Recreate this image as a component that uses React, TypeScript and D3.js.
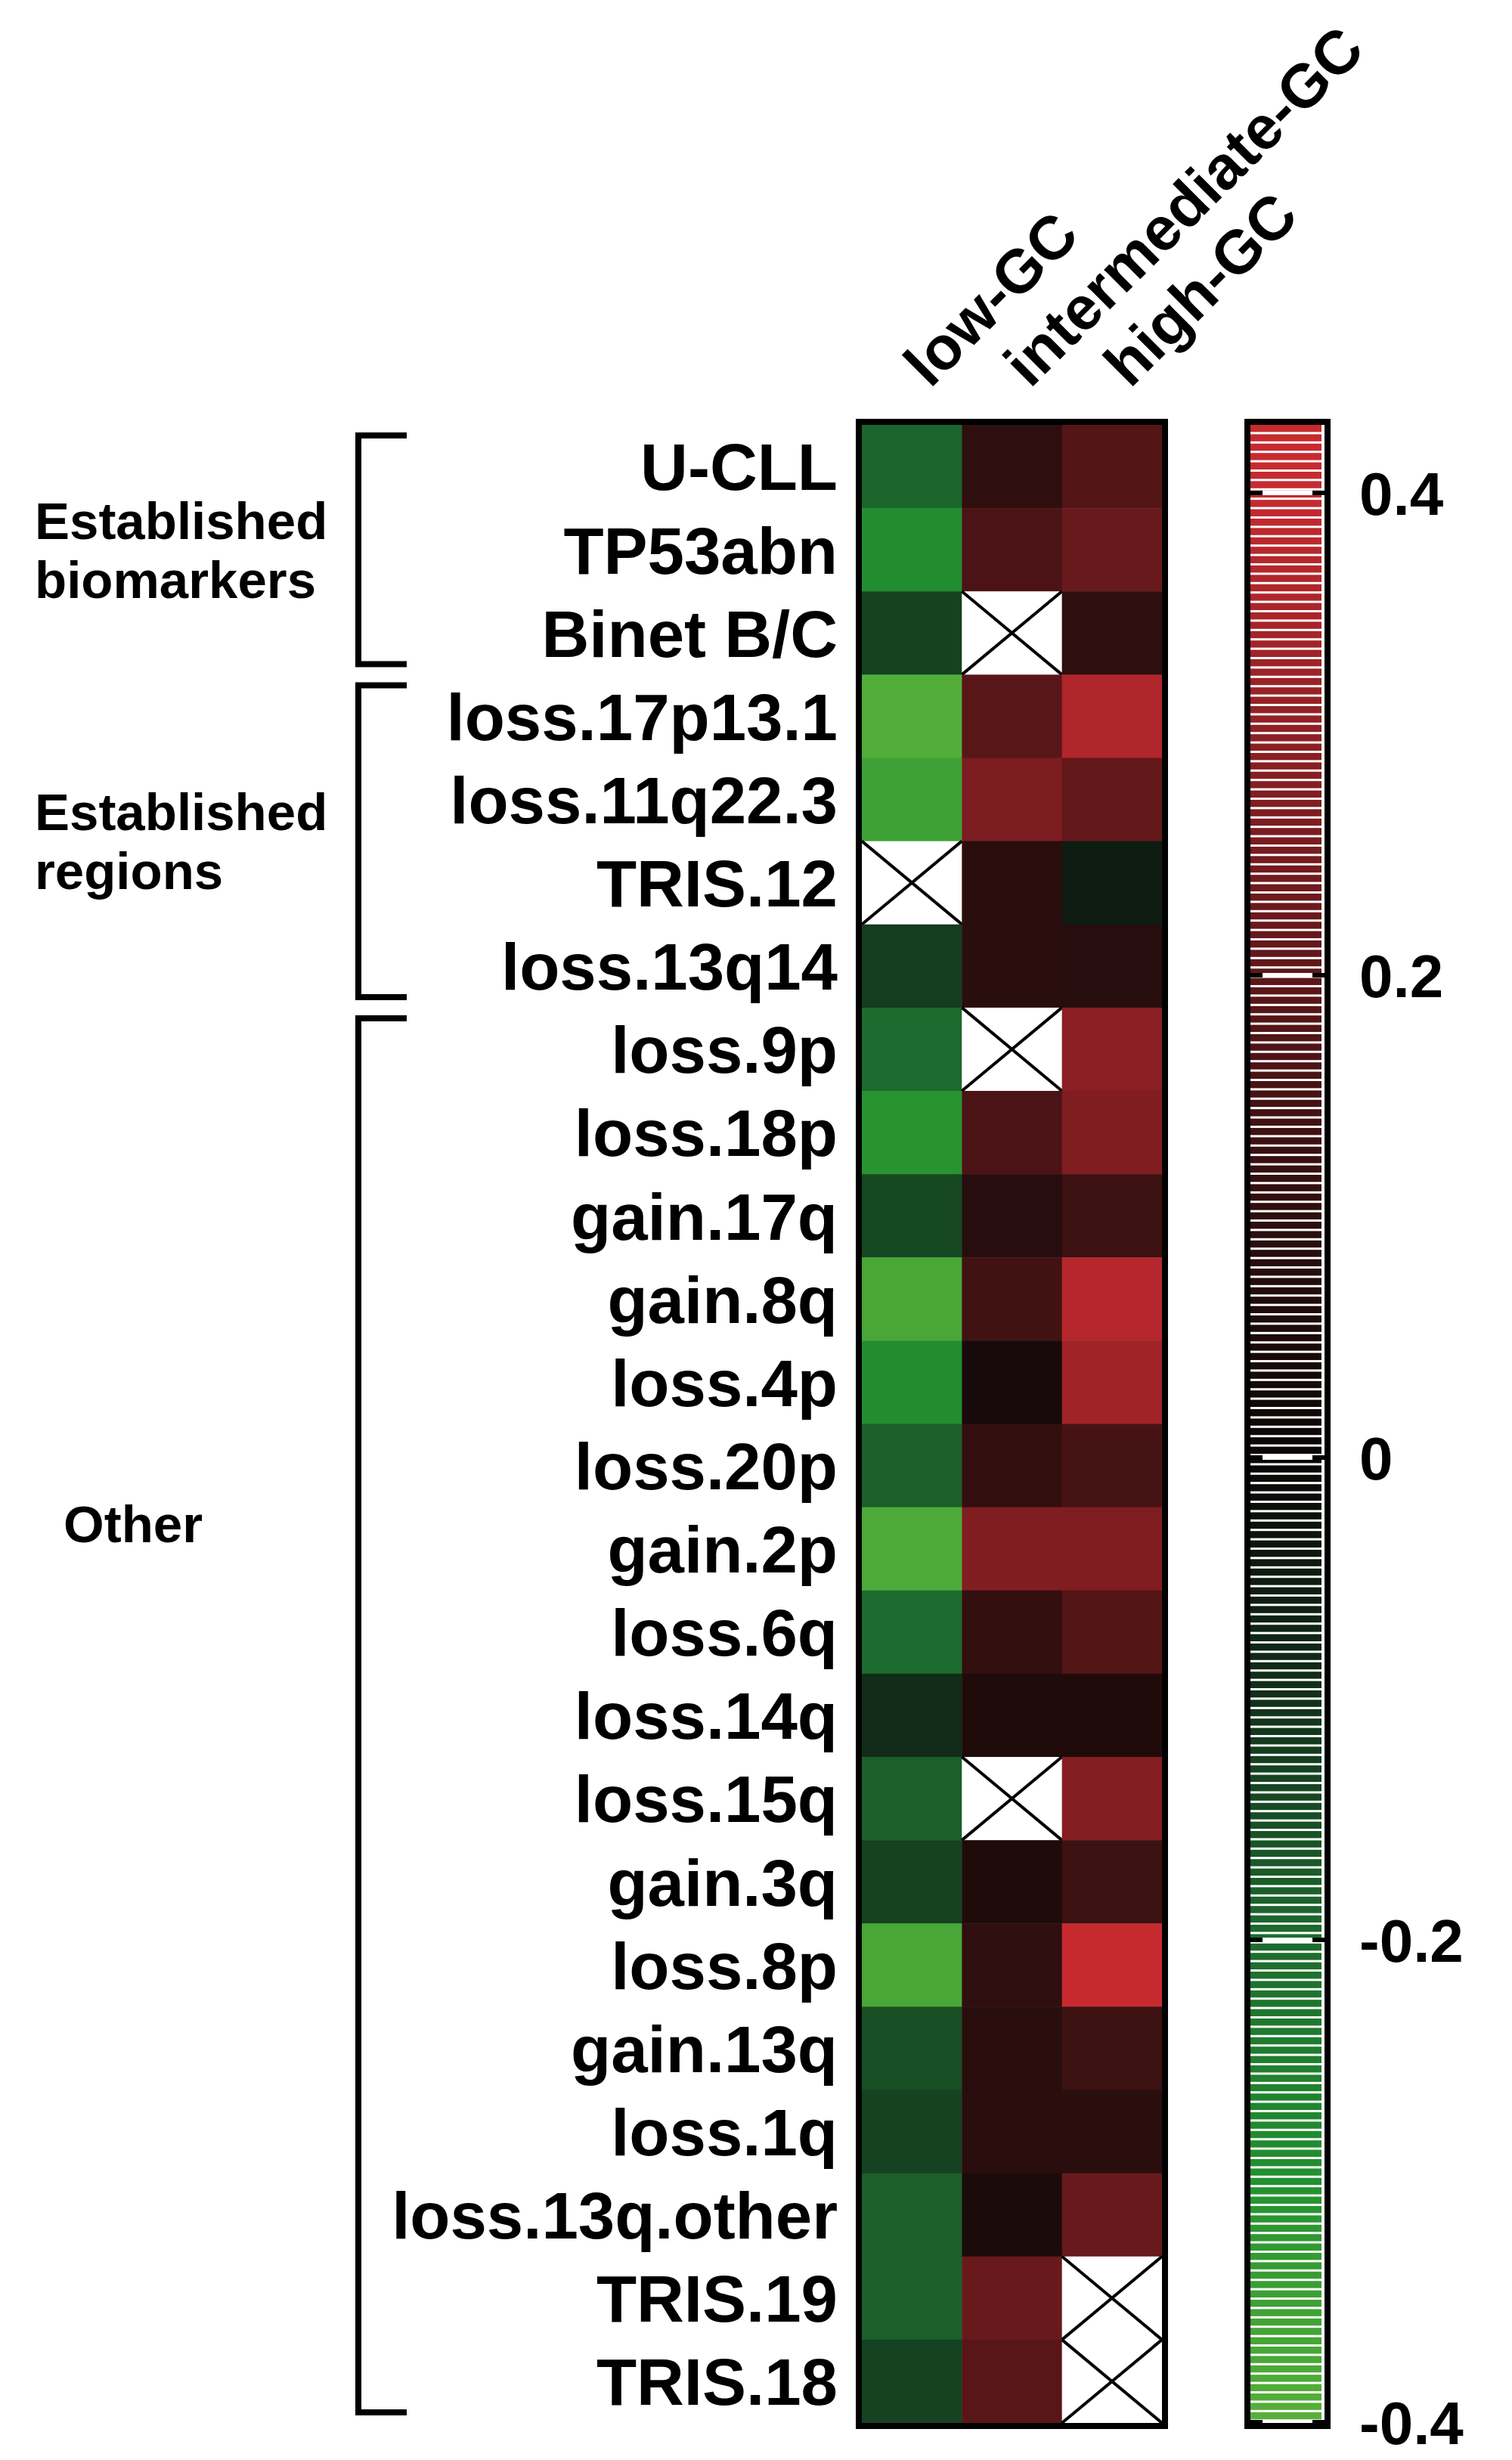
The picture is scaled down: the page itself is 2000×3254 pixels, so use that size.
import React from "react";
import * as d3 from "d3";

// rows of the heatmap, top to bottom
const rows = [
  "U-CLL", "TP53abn", "Binet B/C",
  "loss.17p13.1", "loss.11q22.3", "TRIS.12", "loss.13q14",
  "loss.9p", "loss.18p", "gain.17q", "gain.8q", "loss.4p", "loss.20p",
  "gain.2p", "loss.6q", "loss.14q", "loss.15q", "gain.3q", "loss.8p",
  "gain.13q", "loss.1q", "loss.13q.other", "TRIS.19", "TRIS.18",
];

const columns = ["low-GC", "intermediate-GC", "high-GC"];

// null = not available (white cell with a cross)
const lowGC = [
  -0.19, -0.29, -0.13,
  -0.39, -0.35, null, -0.12,
  -0.2, -0.31, -0.14, -0.37, -0.29, -0.18,
  -0.38, -0.2, -0.09, -0.18, -0.13, -0.37,
  -0.15, -0.13, -0.18, -0.18, -0.13,
];
const intermediateGC = [
  0.1, 0.16, null,
  0.19, 0.26, 0.09, 0.09,
  null, 0.16, 0.08, 0.14, 0.04, 0.11,
  0.27, 0.11, 0.06, null, 0.06, 0.1,
  0.09, 0.09, 0.05, 0.22, 0.19,
];
const highGC = [
  0.18, 0.22, 0.1,
  0.36, 0.21, -0.05, 0.08,
  0.29, 0.27, 0.13, 0.37, 0.33, 0.15,
  0.27, 0.18, 0.06, 0.28, 0.13, 0.42,
  0.13, 0.09, 0.22, null, null,
];

const colorTicks = [0.4, 0.2, 0, -0.2, -0.4];

// row groups shown with brackets on the left
const groupLines = [["Established", "biomarkers"], ["Established", "regions"], ["Other"]];
const groupFirst = ["U-CLL", "loss.17p13.1", "loss.9p"];
const groupLast = ["Binet B/C", "loss.13q14", "TRIS.18"];
const groupAnchor = ["TP53abn", "TRIS.12", "gain.2p"];
const groupAnchorFrac = [0.5, 0, 0.2];

const FONT = "'Liberation Sans', Arial, Helvetica, sans-serif";

const W = 2000;
const H = 3254;

export default function App() {
  const x = d3.scaleBand().domain(columns).range([1140, 1537]);
  const y = d3.scaleBand().domain(rows).range([562, 3205]);

  const color = d3
    .scaleLinear<string>()
    .domain([-0.4, -0.3, -0.2, -0.1, 0, 0.1, 0.2, 0.3, 0.4])
    .range(["#58b03a", "#22912f", "#1d6b2e", "#12301a", "#0a0707", "#2e0e0e", "#5e1719", "#8e2024", "#c62a2f"])
    .clamp(true);

  const series = [lowGC, intermediateGC, highGC];
  const cells = columns.flatMap((c, ci) =>
    rows.map((r, ri) => ({ col: c, row: r, value: series[ci][ri] }))
  );

  // colour bar
  const legendY = d3.scaleLinear().domain([-0.4, 0.4]).range([3204, 652]);
  const barX0 = 1654;
  const barX1 = 1752;
  const barTop = 562;
  const barBottom = 3205;
  const stripePitch = 12.4;
  const stripes = d3.range(barTop, barBottom, stripePitch);

  const bw = x.bandwidth();
  const bh = y.bandwidth();

  return (
    <div style={{ position: "absolute", left: 0, top: 0 }}>
      <svg width={W} height={H} style={{ display: "block", background: "#fff" }}>
        {/* column headers */}
        {columns.map((c) => (
          <text
            key={c}
            transform={`translate(${(x(c) ?? 0) + bw / 2 + 24},${515}) rotate(-45)`}
            fontFamily={FONT}
            fontWeight="bold"
            fontSize={81}
            fill="#000"
          >
            {c}
          </text>
        ))}

        {/* heatmap cells */}
        {cells.map((d) => {
          const cx = x(d.col) ?? 0;
          const cy = y(d.row) ?? 0;
          if (d.value === null) {
            return (
              <g key={d.col + d.row}>
                <rect x={cx} y={cy} width={bw} height={bh} fill="#fff" />
                <line x1={cx} y1={cy} x2={cx + bw} y2={cy + bh} stroke="#000" strokeWidth={4} />
                <line x1={cx} y1={cy + bh} x2={cx + bw} y2={cy} stroke="#000" strokeWidth={4} />
              </g>
            );
          }
          return (
            <rect
              key={d.col + d.row}
              x={cx}
              y={cy}
              width={bw + 0.5}
              height={bh + 0.5}
              fill={color(d.value)}
            />
          );
        })}
        <rect
          x={1140 - 4}
          y={562 - 4}
          width={1537 - 1140 + 8}
          height={3205 - 562 + 8}
          fill="none"
          stroke="#000"
          strokeWidth={8}
        />

        {/* row labels */}
        {rows.map((r) => (
          <text
            key={r}
            x={1108}
            y={(y(r) ?? 0) + bh / 2}
            dy="0.36em"
            textAnchor="end"
            fontFamily={FONT}
            fontWeight="bold"
            fontSize={87}
            fill="#000"
          >
            {r}
          </text>
        ))}

        {/* brackets and group labels */}
        {groupLines.map((lines, gi) => {
          const top = (y(groupFirst[gi]) ?? 0) + 14;
          const bottom = (y(groupLast[gi]) ?? 0) + bh - 14;
          const bx = 474;
          const tick = 64;
          const cy = (y(groupAnchor[gi]) ?? 0) + bh * groupAnchorFrac[gi];
          const lineGap = 78;
          return (
            <g key={gi}>
              <path
                d={`M${bx + tick},${top}H${bx}V${bottom}H${bx + tick}`}
                fill="none"
                stroke="#000"
                strokeWidth={8}
              />
              {lines.map((t, li) => (
                <text
                  key={li}
                  x={gi === 2 ? 84 : 46}
                  y={cy + (li - (lines.length - 1) / 2) * lineGap}
                  dy="0.36em"
                  fontFamily={FONT}
                  fontWeight="bold"
                  fontSize={69}
                  fill="#000"
                >
                  {t}
                </text>
              ))}
            </g>
          );
        })}

        {/* colour bar */}
        {stripes.map((s, i) => (
          <rect
            key={i}
            x={barX0}
            y={s}
            width={barX1 - barX0 - 4}
            height={Math.min(stripePitch - 3, barBottom - s)}
            fill={color(legendY.invert(s + stripePitch / 2))}
          />
        ))}
        {colorTicks.map((t) => (
          <g key={t}>
            <line x1={barX0} x2={barX1} y1={legendY(t)} y2={legendY(t)} stroke="#fff" strokeWidth={6} />
            <line x1={barX0} x2={barX0 + 16} y1={legendY(t)} y2={legendY(t)} stroke="#000" strokeWidth={6} />
            <line x1={barX1 - 16} x2={barX1} y1={legendY(t)} y2={legendY(t)} stroke="#000" strokeWidth={6} />
            <text
              x={1798}
              y={legendY(t)}
              dy="0.36em"
              fontFamily={FONT}
              fontWeight="bold"
              fontSize={80}
              fill="#000"
            >
              {t === 0 ? "0" : d3.format(".1f")(t).replace("−", "-")}
            </text>
          </g>
        ))}
        <rect
          x={barX0 - 4}
          y={barTop - 4}
          width={barX1 - barX0 + 8}
          height={barBottom - barTop + 8}
          fill="none"
          stroke="#000"
          strokeWidth={8}
        />
      </svg>
    </div>
  );
}
